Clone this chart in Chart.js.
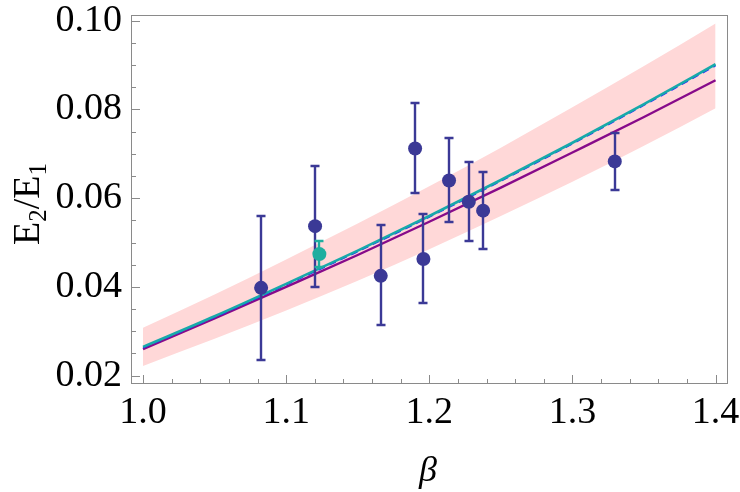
<!DOCTYPE html>
<html>
<head>
<meta charset="utf-8">
<script src="https://cdn.jsdelivr.net/npm/chart.js@4.4.0/dist/chart.umd.min.js"></script>
<style>
    html, body { margin: 0; padding: 0; background: #fff; }
</style>
</head>
<body>
<canvas id="ratio-chart" width="740" height="492"></canvas>
<script>
// measured points (beta, E2/E1) with error bars
const beta_pts = [1.0825, 1.1202, 1.1661, 1.1901, 1.1959, 1.2138, 1.2276, 1.2376, 1.3296];
const ratio_pts = [0.0398, 0.0537, 0.0425, 0.0712, 0.0463, 0.0640, 0.0592, 0.0572, 0.0683];
const ratio_lo = [0.0235, 0.0401, 0.0314, 0.0611, 0.0363, 0.0546, 0.0503, 0.0486, 0.0618];
const ratio_hi = [0.0561, 0.0673, 0.0540, 0.0815, 0.0564, 0.0735, 0.0682, 0.0658, 0.0748];

// the single teal point
const beta_teal = [1.1232];
const ratio_teal = [0.0474];
const ratio_teal_lo = [0.0444];
const ratio_teal_hi = [0.0504];

// curves, read at these beta values
const beta_grid = [1.00, 1.05, 1.10, 1.15, 1.20, 1.25, 1.30, 1.35, 1.40];
const curve_cyan = [0.0265, 0.0334, 0.0407, 0.0482, 0.0560, 0.0641, 0.0725, 0.0812, 0.0902];
const curve_blue = [0.0263, 0.0332, 0.0405, 0.0480, 0.0558, 0.0639, 0.0723, 0.0810, 0.0899];
const curve_purple = [0.0260, 0.0329, 0.0400, 0.0472, 0.0547, 0.0624, 0.0703, 0.0783, 0.0866];
const band_hi = [0.0308, 0.0383, 0.0462, 0.0543, 0.0627, 0.0714, 0.0805, 0.0898, 0.0994];
const band_lo = [0.0222, 0.0283, 0.0347, 0.0414, 0.0485, 0.0560, 0.0637, 0.0718, 0.0803];

const x_ticks = [1.0, 1.1, 1.2, 1.3, 1.4];
const y_ticks = [0.02, 0.04, 0.06, 0.08, 0.10];

const navy = "#3b3996";
const teal = "#1eae9f";
const axis_grey = "#8a8a8a";
const serif = "'Liberation Serif', 'Times New Roman', serif";

function pairs(xs, ys) {
    let out = [];
    for (let i = 0; i < xs.length; i++) {
        out.push({x: xs[i], y: ys[i]});
    }
    return out;
}

// error bars, drawn just before their point dataset
const errorBars = {
    id: "errorBars",
    beforeDatasetDraw(chart, args) {
        let ds = chart.data.datasets[args.index];
        if (!ds.errLo) return;
        let ctx = chart.ctx;
        let xs = chart.scales.x, ys = chart.scales.y;
        ctx.save();
        ctx.strokeStyle = ds.backgroundColor;
        ctx.lineWidth = 2.4;
        for (let i = 0; i < ds.data.length; i++) {
            let px = Math.round(xs.getPixelForValue(ds.data[i].x));
            let lo = Math.round(ys.getPixelForValue(ds.errLo[i]));
            let hi = Math.round(ys.getPixelForValue(ds.errHi[i]));
            ctx.beginPath();
            ctx.moveTo(px, lo);
            ctx.lineTo(px, hi);
            ctx.moveTo(px - 4.5, lo);
            ctx.lineTo(px + 4.5, lo);
            ctx.moveTo(px - 4.5, hi);
            ctx.lineTo(px + 4.5, hi);
            ctx.stroke();
        }
        ctx.restore();
    }
};

// frame, inward ticks and axis titles
const frame = {
    id: "frame",
    afterDraw(chart) {
        let ctx = chart.ctx;
        let a = chart.chartArea;
        let xs = chart.scales.x, ys = chart.scales.y;
        ctx.save();
        ctx.strokeStyle = axis_grey;
        ctx.lineWidth = 1;
        ctx.strokeRect(Math.round(a.left) - 0.5, Math.round(a.top) + 0.5,
            Math.round(a.right - a.left) + 1, Math.round(a.bottom - a.top));
        ctx.beginPath();
        for (let k = 0; k <= 20; k++) {
            let v = 1.0 + k * 0.02;
            let px = Math.round(xs.getPixelForValue(v)) + 0.5;
            let len = (k % 5 == 0) ? 8 : 4;
            ctx.moveTo(px, a.bottom);
            ctx.lineTo(px, a.bottom - len);
        }
        for (let k = 0; k <= 16; k++) {
            let v = 0.02 + k * 0.005;
            let py = Math.round(ys.getPixelForValue(v)) + 0.5;
            let len = (k % 4 == 0) ? 8 : 4;
            ctx.moveTo(a.left, py);
            ctx.lineTo(a.left + len, py);
        }
        ctx.stroke();

        // y title E2/E1 with subscripts
        ctx.fillStyle = "#000";
        ctx.translate(39, 204);
        ctx.rotate(-Math.PI / 2);
        ctx.textBaseline = "alphabetic";
        let big = "38px " + serif, small = "25px " + serif;
        let parts = [["E", big, 0], ["2", small, 7], ["/E", big, 0], ["1", small, 7]];
        let total = 0;
        parts.forEach(function(p) { ctx.font = p[1]; total += ctx.measureText(p[0]).width; });
        let cx = -total / 2;
        parts.forEach(function(p) {
            ctx.font = p[1];
            ctx.fillText(p[0], cx, p[2]);
            cx += ctx.measureText(p[0]).width;
        });
        ctx.setTransform(1, 0, 0, 1, 0, 0);

        // x title
        ctx.font = "italic 36px " + serif;
        ctx.textAlign = "center";
        ctx.fillText("\u03B2", 428, 481);
        ctx.restore();
    }
};

const ctx = document.getElementById("ratio-chart").getContext("2d");
new Chart(ctx, {
    type: "scatter",
    data: {
        datasets: [
            {
                data: pairs(beta_teal, ratio_teal),
                errLo: ratio_teal_lo,
                errHi: ratio_teal_hi,
                backgroundColor: teal,
                borderWidth: 0,
                pointRadius: 7,
                order: 0
            },
            {
                data: pairs(beta_pts, ratio_pts),
                errLo: ratio_lo,
                errHi: ratio_hi,
                backgroundColor: navy,
                borderWidth: 0,
                pointRadius: 7,
                order: 1
            },
            {
                data: pairs(beta_grid, curve_cyan),
                showLine: true,
                borderColor: "#17a9aa",
                borderWidth: 2.6,
                pointRadius: 0,
                cubicInterpolationMode: "monotone",
                order: 2
            },
            {
                data: pairs(beta_grid, curve_blue),
                showLine: true,
                borderColor: "#2424ff",
                borderWidth: 1.8,
                borderDash: [7, 5],
                pointRadius: 0,
                cubicInterpolationMode: "monotone",
                order: 3
            },
            {
                data: pairs(beta_grid, curve_purple),
                showLine: true,
                borderColor: "#870a8a",
                borderWidth: 2.4,
                pointRadius: 0,
                cubicInterpolationMode: "monotone",
                order: 4
            },
            {
                data: pairs(beta_grid, band_hi),
                showLine: true,
                borderWidth: 0,
                borderColor: "rgba(0,0,0,0)",
                backgroundColor: "#ffd8d8",
                fill: "+1",
                pointRadius: 0,
                cubicInterpolationMode: "monotone",
                order: 5
            },
            {
                data: pairs(beta_grid, band_lo),
                showLine: true,
                borderWidth: 0,
                borderColor: "rgba(0,0,0,0)",
                pointRadius: 0,
                cubicInterpolationMode: "monotone",
                order: 6
            }
        ]
    },
    options: {
        responsive: false,
        animation: false,
        devicePixelRatio: 1,
        layout: {padding: {top: 15, right: 13, left: 0, bottom: 0}},
        plugins: {
            legend: {display: false},
            tooltip: {enabled: false}
        },
        scales: {
            x: {
                type: "linear",
                min: 0.9923,
                max: 1.408,
                grid: {display: false, drawTicks: false},
                border: {display: false},
                afterBuildTicks: function(s) { s.ticks = x_ticks.map(function(v) { return {value: v}; }); },
                afterFit: function(s) {
                    s.height = 109;
                    s.paddingLeft = 0;
                    s.paddingRight = 0;
                },
                ticks: {
                    color: "#000",
                    font: {family: serif, size: 38},
                    padding: 7,
                    maxRotation: 0,
                    autoSkip: false,
                    callback: function(v) { return v.toFixed(1); }
                }
            },
            y: {
                type: "linear",
                min: 0.01835,
                max: 0.1013,
                grid: {display: false, drawTicks: false},
                border: {display: false},
                afterBuildTicks: function(s) { s.ticks = y_ticks.map(function(v) { return {value: v}; }); },
                afterFit: function(s) {
                    s.width = 132;
                    s.paddingTop = 0;
                    s.paddingBottom = 0;
                },
                ticks: {
                    color: "#000",
                    font: {family: serif, size: 38},
                    padding: 10,
                    autoSkip: false,
                    callback: function(v) { return v.toFixed(2); }
                }
            }
        }
    },
    plugins: [errorBars, frame]
});
</script>
</body>
</html>
